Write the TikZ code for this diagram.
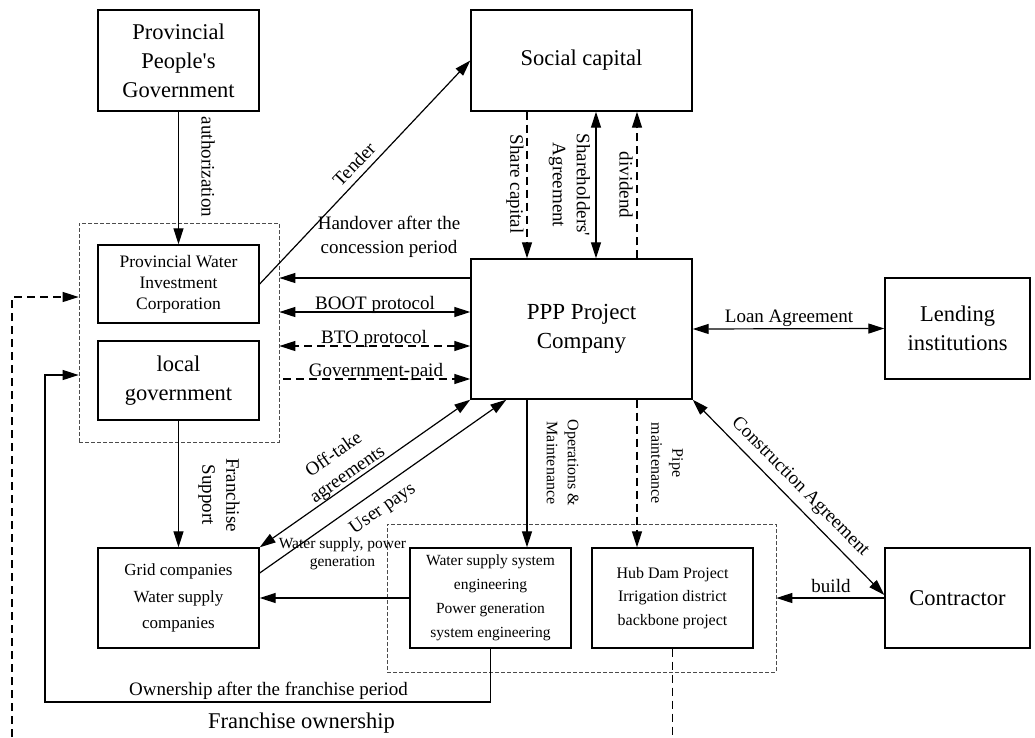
\documentclass[tikz,border=0pt]{standalone}
\usepackage{fontspec}
\setmainfont{Liberation Serif}
\usetikzlibrary{arrows.meta,calc}
\newcommand\fsz[2]{\fontsize{#1}{#2}\selectfont}
\begin{document}
\begin{tikzpicture}[x=1pt,y=-1pt,
  >={Triangle[length=16pt,width=10pt]},
  box/.style={draw, line width=1.4pt, rectangle, inner sep=0pt, align=center},
  grp/.style={draw=black!70, line width=0.7pt, dash pattern=on 4pt off 2pt, rectangle, inner sep=0pt},
  conn/.style={line width=1.2pt},
  dsh/.style={dash pattern=on 8pt off 5pt},
  big/.style={font=\fsz{22.5}{29}},
  lab/.style={font=\fsz{19}{24}, inner sep=0pt, align=center},
  mid/.style={font=\fsz{17.5}{21}},
  grd/.style={font=\fsz{17}{26.5}},
  sml/.style={font=\fsz{15.5}{24}},
  tiny/.style={font=\fsz{16}{21}, inner sep=0pt, align=center}
]
\useasboundingbox (0,0) rectangle (1035,737);

% groups
\node[grp, minimum width=200pt, minimum height=219pt] (g1) at (179,332.5) {};
\node[grp, minimum width=389pt, minimum height=148pt] (g2) at (581.5,598) {};

% boxes
\node[box, big, minimum width=161pt, minimum height=101pt] (ppg) at (178.5,60.5) {Provincial\\People\textquotesingle s\\Government};
\node[box, big, minimum width=221pt, minimum height=101pt] (soc) at (581.5,60.5) {Social capital};
\node[box, font=\fsz{23}{29}, minimum width=221pt, minimum height=140pt] (ppp) at (581.5,329) {PPP Project\\Company};
\node[box, big, minimum width=145pt, minimum height=101pt] (lend) at (957.5,328.5) {Lending\\institutions};
\node[box, mid, minimum width=161pt, minimum height=78pt] (pwic) at (178.5,284) {Provincial Water\\Investment\\Corporation};
\node[box, big, minimum width=161pt, minimum height=79pt] (lg) at (178.5,380.5) {local\\government};
\node[box, grd, minimum width=161pt, minimum height=100pt] (grid) at (178.5,598) {Grid companies\\Water supply\\companies};
\node[box, sml, minimum width=161pt, minimum height=100pt] (wss) at (490.5,598) {Water supply system\\engineering\\Power generation\\system engineering};
\node[box, font=\fsz{16}{23.5}, minimum width=161pt, minimum height=100pt] (hub) at (672.5,598) {Hub Dam Project\\Irrigation district\\backbone project};
\node[box, big, minimum width=145pt, minimum height=100pt] (con) at (957.5,598) {Contractor};

% helper coordinates
\coordinate (sc) at ($(soc.south)+(-54.5,0)$);
\coordinate (sh) at ($(soc.south)+(14.5,0)$);
\coordinate (dv) at ($(soc.south)+(55.5,0)$);
\coordinate (om) at ($(ppp.south)+(-54.5,0)$);
\coordinate (pm) at ($(ppp.south)+(55.5,0)$);
\coordinate (ho) at ($(ppp.west)+(0,-51)$);
\coordinate (bo) at ($(ppp.west)+(0,-17)$);
\coordinate (bt) at ($(ppp.west)+(0,17)$);
\coordinate (gp) at ($(ppp.west)+(0,50)$);
\coordinate (up1) at ($(grid.east)+(0,-25)$);
\coordinate (up2) at ($(ppp.south west)+(36,0)$);
\coordinate (ca) at ($(con.west)+(0,-3)$);
\coordinate (ownin) at ($(g1.west)+(0,42.5)$);
\coordinate (dashin) at ($(g1.west)+(0,-35.5)$);
\coordinate (own) at (45,702);
\coordinate (dl) at (12,737);

% connectors
\draw[conn,->] (ppg.south) -- (pwic.north);
\draw[conn,->] (pwic.east) -- (soc.west);
\draw[conn,dsh,->] (sc) -- (sc |- ppp.north);
\draw[conn,<->] (sh) -- (sh |- ppp.north);
\draw[conn,dsh,->] (dv |- ppp.north) -- (dv);
\draw[conn,->] (ho) -- (ho -| g1.east);
\draw[conn,<->] (bo) -- (bo -| g1.east);
\draw[conn,dsh,<->] (bt) -- (bt -| g1.east);
\draw[conn,dsh,->] ($(gp -| g1.east)+(4,0)$) -- (gp);
\draw[conn,<->] (ppp.east) -- (lend.west);
\draw[conn,<->] (grid.north east) -- (ppp.south west);
\draw[conn,->] (up1) -- (up2);
\draw[conn,<->] (ppp.south east) -- (ca);
\draw[conn,->] (con.west) -- (con.west -| g2.east);
\draw[conn,->] (lg.south) -- (grid.north);
\draw[conn,->] (wss.west) -- (grid.east);
\draw[conn,->] (om) -- (om |- wss.north);
\draw[conn,dsh,->] (pm) -- (pm |- hub.north);
\draw[conn,->] (wss.south) |- (own) |- (ownin);
\draw[conn,dsh,->] (dl) |- (dashin);
\draw[conn,dsh] (hub.south) -- (hub.south |- dl);

% labels
\node[lab, rotate=-90] (l-auth) at (208,167) {authorization};
\node[lab, rotate=46.2] (l-tender) at (354,164) {Tender};
\node[lab, rotate=-90] (l-share) at (515,184) {Share capital};
\node[lab, rotate=-90] (l-sha) at (569.5,185) {Shareholders\textquotesingle\\Agreement};
\node[lab, rotate=-90] (l-div) at (626,185) {dividend};
\node[lab, anchor=base] (l-ho) at (389,253) {Handover after the\\concession period};
\node[lab, anchor=base] (l-boot) at (375,309) {BOOT protocol};
\node[lab, anchor=base] (l-bto) at (374,343) {BTO protocol};
\node[lab, anchor=base] (l-gp) at (376,376) {Government-paid};
\node[lab, anchor=base] (l-loan) at (789,322) {Loan Agreement};
\node[lab, rotate=34.9] (l-off) at (341,465) {Off-take\\agreements};
\node[lab, rotate=34.9] (l-up) at (383,509) {User pays};
\node[lab, rotate=-45.4] (l-ca) at (800,487) {Construction Agreement};
\node[lab, anchor=base] (l-build) at (831,592) {build};
\node[lab, rotate=-90] (l-fs) at (219,495) {Franchise\\Support};
\node[lab, font=\fsz{15.5}{18}, anchor=base] (l-wsp) at (342.5,566) {Water supply, power\\generation};
\node[tiny, rotate=-90] (l-om) at (562.5,463) {Operations \&\\Maintenance};
\node[tiny, rotate=-90] (l-pm) at (667,463) {Pipe\\maintenance};
\node[lab, anchor=base] (l-own) at (268.5,695) {Ownership after the franchise period};
\node[lab, font=\fsz{22.5}{27}, anchor=base] (l-fo) at (301.5,728) {Franchise ownership};
\end{tikzpicture}
\end{document}
